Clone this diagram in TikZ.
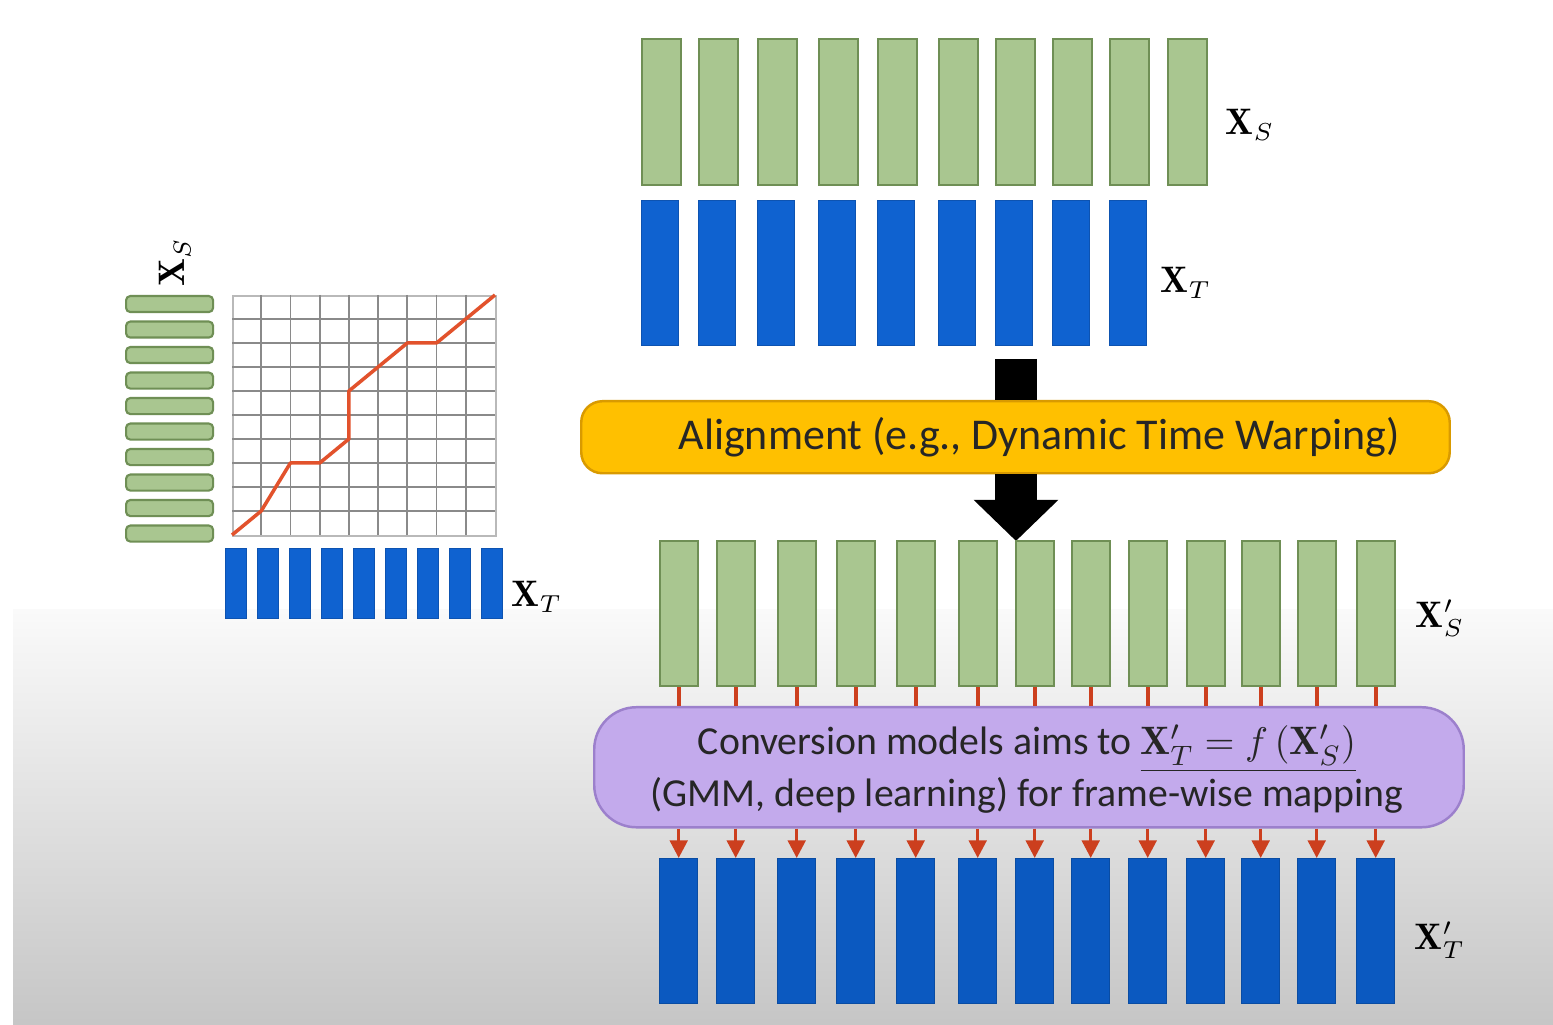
\documentclass[tikz,border=0pt]{standalone}
\usepackage{fontspec}
\newfontfamily\boxfont{Carlito}
\usetikzlibrary{arrows.meta}
\definecolor{gfill}{HTML}{A9C690}
\definecolor{gbord}{HTML}{6F8F55}
\definecolor{bfill}{HTML}{0F62D0}
\definecolor{bfilldark}{HTML}{0B59C0}
\definecolor{orfill}{HTML}{FFC000}
\definecolor{orbord}{HTML}{D99A00}
\definecolor{pufill}{HTML}{C3AAEC}
\definecolor{pubord}{HTML}{9C80CC}
\definecolor{redc}{HTML}{CC3F1E}
\definecolor{pathred}{HTML}{E2522C}
\definecolor{gridc}{HTML}{8A8A8A}
\definecolor{txt}{HTML}{262626}
\tikzset{
  gbar/.style={draw=gbord, fill=gfill, line width=0.6pt, inner sep=0pt, anchor=north west},
  bbar/.style={draw=bfill!85!black, fill=bfill, line width=0.4pt, inner sep=0pt, anchor=north west},
  bbarlow/.style={draw=bfilldark!85!black, fill=bfilldark, line width=0.4pt, inner sep=0pt, anchor=north west},
  lab/.style={font=\fontsize{10.5}{12}\selectfont, inner sep=0pt, text=black},
  redline/.style={draw=redc, line width=0.9pt},
  redarr/.style={redline, -{Triangle[length=5pt,width=5pt]}},
  blk/.style={draw=black, line width=0.42cm},
}
\begin{document}
\begin{tikzpicture}[x=0.01cm,y=-0.01cm]
\useasboundingbox (0,0) rectangle (1553,1025);
\fill[white] (0,0) rectangle (1553,1025);
\shade[top color=gray!4, bottom color=gray!45] (13,610) rectangle (1553,1025);

% ---------- top right: X_S and X_T ----------
\foreach \x [count=\i] in {641,698,757,818,877,938,995,1052,1109,1167}
  \node[gbar, minimum width=0.39cm, minimum height=1.46cm] (tg\i) at (\x,38) {};
\foreach \x [count=\i] in {641,698,757,818,877,938,995,1052,1109}
  \node[bbar, minimum width=0.37cm, minimum height=1.45cm] (tb\i) at (\x,200) {};
\node[lab] (lxs) at (1250,125) {$\mathbf{X}_S$};
\node[lab] (lxt) at (1186,283) {$\mathbf{X}_T$};

% ---------- alignment box ----------
\node[draw=orbord, fill=orfill, line width=0.7pt, rounded corners=6pt, inner sep=0pt,
      minimum width=8.68cm, minimum height=0.72cm, anchor=north west] (align) at (580,400) {};
\node[font=\boxfont\fontsize{12.5}{14}\selectfont, text=txt, inner sep=0pt] (alignt) at (1039,437)
  {Alignment (e.g., Dynamic Time Warping)};
\coordinate (ka) at (1016,359);
\coordinate (kb) at (1016,541);
\draw[blk] (ka) -- (ka |- align.north);
\draw[blk, -{Triangle[length=0.41cm,width=0.82cm]}] (align.south -| ka) -- (kb);

% ---------- lower: X'_S, conversion, X'_T ----------
\foreach \x [count=\i] in {659,716,777,836,896,958,1015,1071,1128,1186,1241,1297,1356}
  \node[gbar, minimum width=0.38cm, minimum height=1.45cm] (lg\i) at (\x,540) {};
\node[draw=pubord, fill=pufill, line width=0.7pt, rounded corners=12pt, inner sep=0pt,
      minimum width=8.69cm, minimum height=1.2cm, anchor=north west] (conv) at (593,706) {};
\node[font=\boxfont\fontsize{11.3}{13.6}\selectfont, text=txt, align=center, inner sep=0pt] (convt) at (1027,769)
  {Conversion models aims to $\underline{\mathbf{X}'_T = f\,(\mathbf{X}'_S)}$\\[1pt]
   (GMM, deep learning) for frame-wise mapping};
\foreach \x [count=\i] in {659,716,777,836,896,958,1015,1071,1128,1186,1241,1297,1356}
  \node[bbarlow, minimum width=0.38cm, minimum height=1.45cm] (lb\i) at (\x,858) {};
\foreach \i in {1,...,13} {
  \draw[redline] (lg\i.south) -- (lg\i.south |- conv.north);
  \draw[redarr] (conv.south -| lb\i.north) -- (lb\i.north);
}
\node[lab] (lxsp) at (1440,618) {$\mathbf{X}'_S$};
\node[lab] (lxtp) at (1440,940) {$\mathbf{X}'_T$};

% ---------- left: DTW grid ----------
\foreach \i in {0,...,9}
  \node[gbar, rounded corners=1.2pt, minimum width=0.87cm, minimum height=0.16cm] (hs\i) at (125,{295+\i*25.5}) {};
\node[lab, rotate=90] (lxsr) at (175,262) {$\mathbf{X}_S$};
\node[draw=gridc!60, line width=0.5pt, inner sep=0pt, minimum width=2.63cm, minimum height=2.4cm, anchor=north west, fill=white] (grid) at (232,295) {};
\foreach \j in {1,...,8}
  \draw[gridc, line width=0.5pt] ({232+\j*29.22},295) -- ({232+\j*29.22},535);
\foreach \k in {1,...,9}
  \draw[gridc, line width=0.5pt] (232,{295+\k*24}) -- (495,{295+\k*24});
\draw[pathred, line width=1pt, line join=round]
  (232,535) -- (261.2,511) -- (290.4,463) -- (319.7,463) -- (348.9,439)
  -- (348.9,391) -- (407.3,343) -- (436.5,343) -- (495,295);
\foreach \j in {0,...,8}
  \node[bbar, minimum width=0.21cm, minimum height=0.70cm] (vb\j) at ({225+\j*32},548) {};
\node[lab] (lxtl) at (537,597) {$\mathbf{X}_T$};
\end{tikzpicture}
\end{document}
